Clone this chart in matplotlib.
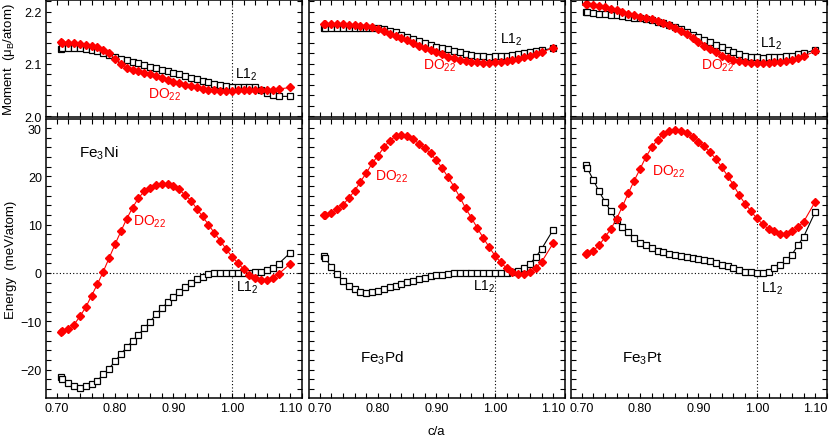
import matplotlib
matplotlib.use("Agg")
import matplotlib.pyplot as plt
from matplotlib.ticker import MultipleLocator

plt.rcParams['font.family'] = ['Liberation Sans', 'DejaVu Sans']
plt.rcParams['mathtext.fontset'] = 'custom'
plt.rcParams['mathtext.rm'] = 'Liberation Sans'
plt.rcParams['mathtext.it'] = 'Liberation Sans:italic'
plt.rcParams['mathtext.default'] = 'regular'

# c/a grid (first point is bcc, 1/sqrt(2))
ca = [0.7071, 0.71, 0.72, 0.73, 0.74, 0.75, 0.76, 0.77, 0.78, 0.79,
      0.80, 0.81, 0.82, 0.83, 0.84, 0.85, 0.86, 0.87, 0.88, 0.89,
      0.90, 0.91, 0.92, 0.93, 0.94, 0.95, 0.96, 0.97, 0.98, 0.99,
      1.00, 1.01, 1.02, 1.03, 1.04, 1.05, 1.06, 1.07, 1.08, 1.10]

# Fe3Ni
ni_E_L12 = [-21.6, -21.9, -22.8, -23.5, -23.8, -23.5, -23.0, -22.3, -21.0, -19.8,
            -18.3, -16.8, -15.4, -14.1, -12.8, -11.5, -10.1, -8.6, -7.3, -6.1,
            -4.9, -3.9, -3.0, -2.0, -1.2, -0.8, -0.3, -0.1, 0.0, 0.0,
            0.0, 0.0, 0.0, 0.0, 0.1, 0.3, 0.6, 1.0, 1.9, 4.2]
ni_E_DO22 = [-12.3, -12.1, -11.7, -10.7, -9.0, -7.1, -4.7, -2.3, 0.3, 3.1,
             5.9, 8.6, 11.2, 13.5, 15.5, 16.9, 17.7, 18.2, 18.4, 18.4,
             18.1, 17.3, 16.1, 15.0, 13.3, 11.7, 10.0, 8.3, 6.7, 5.0,
             3.4, 2.1, 0.8, -0.4, -1.0, -1.4, -1.4, -1.0, -0.2, 1.9]
ni_M_L12 = [2.129, 2.130, 2.130, 2.130, 2.130, 2.129, 2.127, 2.124, 2.121, 2.117,
            2.113, 2.110, 2.107, 2.104, 2.101, 2.098, 2.095, 2.092, 2.089, 2.086,
            2.083, 2.080, 2.077, 2.074, 2.071, 2.068, 2.065, 2.062, 2.059, 2.057,
            2.056, 2.056, 2.056, 2.056, 2.055, 2.050, 2.045, 2.041, 2.038, 2.038]
ni_M_DO22 = [2.142, 2.140, 2.140, 2.140, 2.138, 2.137, 2.135, 2.132, 2.127, 2.120,
             2.110, 2.100, 2.093, 2.088, 2.086, 2.083, 2.080, 2.077, 2.073, 2.070,
             2.066, 2.063, 2.060, 2.058, 2.055, 2.052, 2.051, 2.050, 2.049, 2.049,
             2.049, 2.050, 2.051, 2.051, 2.050, 2.050, 2.050, 2.051, 2.052, 2.055]

# Fe3Pd
pd_E_L12 = [3.6, 3.1, 1.2, -0.3, -1.6, -2.6, -3.4, -3.9, -4.1, -4.0,
            -3.7, -3.3, -3.0, -2.6, -2.3, -1.9, -1.6, -1.2, -1.0, -0.7,
            -0.5, -0.35, -0.2, -0.1, 0.0, 0.0, 0.0, 0.0, 0.0, 0.0,
            0.0, 0.0, 0.0, 0.15, 0.5, 1.1, 1.9, 3.3, 5.0, 9.0]
pd_E_DO22 = [12.0, 12.1, 12.4, 13.2, 14.1, 15.5, 17.0, 18.9, 20.7, 22.7,
             24.3, 26.0, 27.4, 28.3, 28.6, 28.4, 27.7, 26.8, 25.9, 24.8,
             23.3, 21.7, 19.8, 17.9, 15.7, 13.4, 11.4, 9.3, 7.3, 5.4,
             3.6, 2.2, 1.0, 0.3, -0.3, -0.3, 0.1, 1.0, 2.3, 6.2]
pd_M_L12 = [2.169, 2.169, 2.169, 2.169, 2.169, 2.169, 2.169, 2.169, 2.169, 2.169,
            2.168, 2.166, 2.163, 2.160, 2.156, 2.151, 2.147, 2.143, 2.140, 2.136,
            2.133, 2.130, 2.128, 2.125, 2.122, 2.119, 2.117, 2.116, 2.115, 2.114,
            2.115, 2.115, 2.116, 2.117, 2.119, 2.120, 2.122, 2.124, 2.126, 2.130]
pd_M_DO22 = [2.177, 2.177, 2.177, 2.176, 2.176, 2.175, 2.175, 2.173, 2.172, 2.170,
             2.167, 2.163, 2.158, 2.154, 2.150, 2.145, 2.140, 2.135, 2.131, 2.126,
             2.122, 2.118, 2.114, 2.111, 2.108, 2.106, 2.104, 2.103, 2.102, 2.102,
             2.103, 2.104, 2.106, 2.108, 2.110, 2.113, 2.116, 2.119, 2.123, 2.130]

# Fe3Pt
pt_E_L12 = [22.4, 21.7, 19.3, 16.9, 14.8, 12.8, 11.0, 9.6, 8.4, 7.2,
            6.3, 5.7, 5.1, 4.6, 4.3, 3.9, 3.7, 3.6, 3.4, 3.1,
            2.9, 2.7, 2.4, 2.1, 1.7, 1.4, 1.1, 0.7, 0.3, 0.1,
            -0.1, 0.0, 0.3, 1.0, 1.7, 2.6, 3.8, 5.7, 7.5, 12.7]
pt_E_DO22 = [3.9, 4.1, 4.6, 5.7, 7.4, 9.1, 11.2, 13.8, 16.5, 19.1,
             21.5, 24.0, 26.0, 27.6, 28.8, 29.5, 29.7, 29.5, 29.0, 28.1,
             27.2, 26.2, 25.0, 23.6, 21.9, 20.1, 18.2, 16.1, 14.3, 12.8,
             11.3, 10.1, 9.1, 8.6, 8.1, 8.1, 8.6, 9.5, 10.6, 14.8]
pt_M_L12 = [2.199, 2.199, 2.198, 2.196, 2.195, 2.194, 2.193, 2.192, 2.190, 2.188,
            2.187, 2.185, 2.183, 2.180, 2.178, 2.174, 2.170, 2.166, 2.161, 2.156,
            2.151, 2.146, 2.142, 2.137, 2.132, 2.127, 2.123, 2.119, 2.116, 2.114,
            2.113, 2.112, 2.113, 2.113, 2.114, 2.115, 2.116, 2.118, 2.120, 2.127]
pt_M_DO22 = [2.215, 2.215, 2.213, 2.211, 2.208, 2.205, 2.202, 2.199, 2.196, 2.193,
             2.190, 2.188, 2.185, 2.182, 2.179, 2.174, 2.168, 2.163, 2.157, 2.149,
             2.142, 2.135, 2.128, 2.122, 2.116, 2.111, 2.108, 2.105, 2.103, 2.102,
             2.102, 2.102, 2.102, 2.103, 2.104, 2.105, 2.108, 2.111, 2.115, 2.124]

names = [r'Fe$_3$Ni', r'Fe$_3$Pd', r'Fe$_3$Pt']
energy = [(ni_E_L12, ni_E_DO22), (pd_E_L12, pd_E_DO22), (pt_E_L12, pt_E_DO22)]
moment = [(ni_M_L12, ni_M_DO22), (pd_M_L12, pd_M_DO22), (pt_M_L12, pt_M_DO22)]

# label positions (data coords): top L12, top DO22, bottom L12, bottom DO22, name
top_l12 = [(1.005, 2.081), (1.008, 2.148), (1.006, 2.140)]
top_do22 = [(0.856, 2.043), (0.877, 2.098), (0.904, 2.098)]
bot_l12 = [(1.007, -2.9), (0.962, -2.7), (1.007, -3.0)]
bot_do22 = [(0.831, 10.8), (0.795, 20.1), (0.821, 21.2)]
name_pos = [(0.738, 25.1), (0.770, -17.5), (0.770, -17.5)]

RED = '#ff0000'
fig = plt.figure(figsize=(8.3, 4.39), dpi=100)

lefts = [46 / 830, 309 / 830, 571 / 830]
w = 256 / 830


def style(ax):
    for s in ax.spines.values():
        s.set_linewidth(1.1)
    ax.tick_params(which='both', direction='in', top=True, right=True,
                   length=3.5, width=0.8, labelsize=9, pad=3)
    ax.xaxis.set_major_locator(MultipleLocator(0.1))
    ax.xaxis.set_minor_locator(MultipleLocator(0.02))
    ax.set_xlim(0.682, 1.12)


for i in range(3):
    axt = fig.add_axes([lefts[i], 0.7305, w, 0.2672])
    axb = fig.add_axes([lefts[i], 0.0911, w, 0.6356])

    # moment panel
    style(axt)
    axt.set_ylim(1.998, 2.222)
    axt.yaxis.set_major_locator(MultipleLocator(0.1))
    axt.yaxis.set_minor_locator(MultipleLocator(0.02))
    axt.axvline(1.0, color='black', lw=0.8, ls=(0, (1, 2)))
    axt.plot(ca, moment[i][0], '-s', color='black', lw=0.8, ms=4.0,
             mfc='white', mec='black', mew=0.9)
    axt.plot(ca, moment[i][1], '-D', color=RED, lw=0.8, ms=4.0,
             mfc=RED, mec=RED)
    axt.text(*top_l12[i], r'L1$_2$', fontsize=10, ha='left', va='center')
    axt.text(*top_do22[i], r'DO$_{22}$', fontsize=10, color=RED, ha='left', va='center')
    axt.tick_params(labelbottom=False)

    # energy panel
    style(axb)
    axb.set_ylim(-25.9, 31.9)
    axb.yaxis.set_major_locator(MultipleLocator(10))
    axb.yaxis.set_minor_locator(MultipleLocator(2))
    axb.axvline(1.0, color='black', lw=0.8, ls=(0, (1, 2)))
    axb.axhline(0.0, color='black', lw=0.8, ls=(0, (1, 2)))
    axb.plot(ca, energy[i][0], '-s', color='black', lw=0.8, ms=4.0,
             mfc='white', mec='black', mew=0.9)
    axb.plot(ca, energy[i][1], '-D', color=RED, lw=0.8, ms=4.0,
             mfc=RED, mec=RED)
    axb.text(*bot_l12[i], r'L1$_2$', fontsize=10, ha='left', va='center')
    axb.text(*bot_do22[i], r'DO$_{22}$', fontsize=10, color=RED, ha='left', va='center')
    axb.text(*name_pos[i], names[i], fontsize=11, ha='left', va='center')
    axb.xaxis.set_major_formatter(plt.FuncFormatter(lambda v, p: f'{v:.2f}'))

    if i == 0:
        axt.set_ylabel('Moment  (μ$_B$/atom)', fontsize=9.5, labelpad=4)
        axb.set_ylabel('Energy  (meV/atom)', fontsize=9.5, labelpad=4)
        axt.yaxis.set_label_coords(-0.115, 0.5)
        axb.yaxis.set_label_coords(-0.115, 0.5)
    else:
        axt.tick_params(labelleft=False)
        axb.tick_params(labelleft=False)

fig.text(436 / 830, 1 - 432 / 439, 'c/a', fontsize=9.5, ha='center', va='center')

fig.savefig('out.png', dpi=100)
